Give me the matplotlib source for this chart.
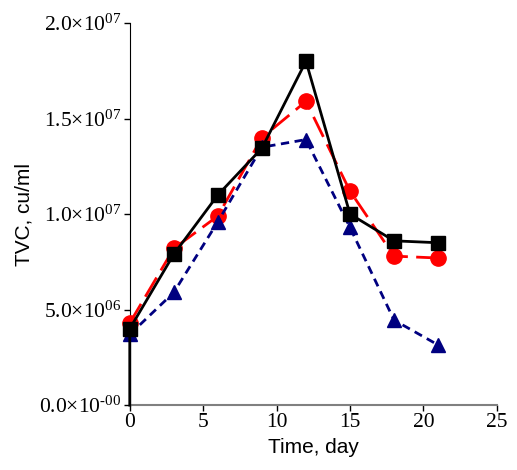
import matplotlib
matplotlib.use("Agg")
import matplotlib.pyplot as plt

plt.rcParams["mathtext.fontset"] = "custom"
plt.rcParams["mathtext.rm"] = "Liberation Serif"
plt.rcParams["mathtext.default"] = "rm"

days = [0, 3, 6, 9, 12, 15, 18, 21]
red = [4.3e6, 8.2e6, 9.9e6, 14.0e6, 15.9e6, 11.2e6, 7.8e6, 7.7e6]
blue = [3.7e6, 5.9e6, 9.6e6, 13.5e6, 13.9e6, 9.3e6, 4.45e6, 3.15e6]
black = [4.0e6, 7.9e6, 11.0e6, 13.45e6, 18.0e6, 10.0e6, 8.6e6, 8.5e6]
yticks = [0, 5e6, 1e7, 1.5e7, 2e7]
ylabels = ["0.0×10$^{\\text{-00}}$", "5.0×10$^{06}$", "1.0×10$^{07}$", "1.5×10$^{07}$", "2.0×10$^{07}$"]

fig = plt.figure(figsize=(5.17, 4.7), dpi=100)
ax = fig.add_axes([0.251, 0.138, 0.710, 0.813])

ax.plot(days, red, color="red", lw=2, dashes=(8, 3), marker="o", ms=11, zorder=3)
ax.plot(days, blue, color="#000080", lw=2, ls=(0, (3, 2)), marker="^", ms=10, zorder=3)
# black series also drops to zero at day 0
ax.plot([0] + days, [0] + black, color="black", lw=2, marker="s", ms=10,
        markevery=list(range(1, len(days) + 1)), zorder=4)

ax.set_xlim(0, 25)
ax.set_ylim(0, 2e7)
ax.set_xticks([0, 5, 10, 15, 20, 25])
ax.set_yticks(yticks)
ax.set_yticklabels(ylabels)
for lab in ax.get_xticklabels() + ax.get_yticklabels():
    lab.set_family("Liberation Serif")
    lab.set_fontsize(15.5)
ax.tick_params(direction="out", length=4, width=1, pad=2)
ax.spines["top"].set_visible(False)
ax.spines["right"].set_visible(False)
ax.spines["bottom"].set_color("gray")
ax.spines["bottom"].set_linewidth(1.5)
ax.set_xlabel("Time, day", family="Liberation Sans", fontsize=15, labelpad=4)
ax.set_ylabel("TVC, cu/ml", family="Liberation Sans", fontsize=15, labelpad=4)
for line in ax.lines:
    line.set_clip_on(False)

fig.savefig("out.png")
